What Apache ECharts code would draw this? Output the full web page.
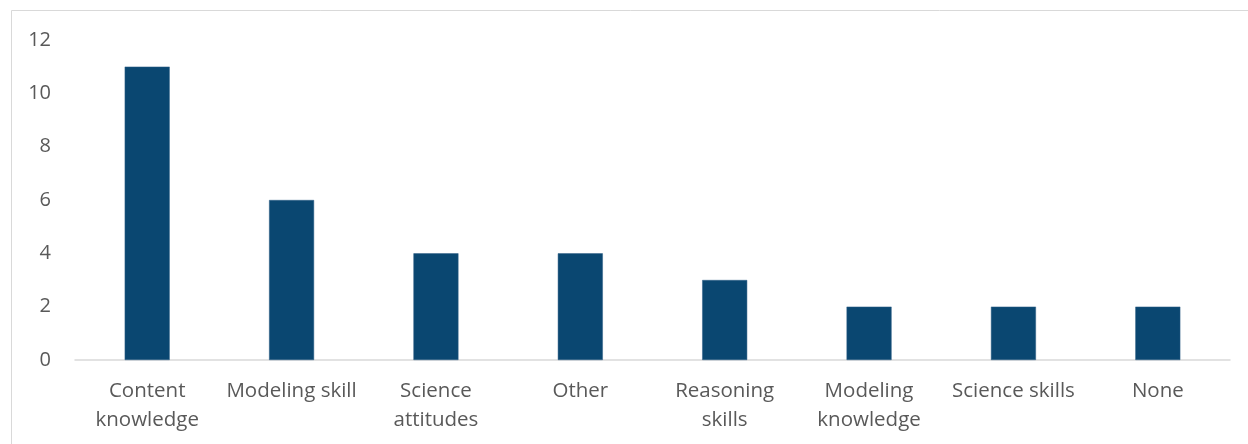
<!DOCTYPE html>
<html>
<head>
<meta charset="utf-8">
<script src="https://cdn.jsdelivr.net/npm/echarts@6/dist/echarts.min.js"></script>
<style>
  html, body { margin: 0; padding: 0; background: #ffffff; }
  #chart { width: 1248px; height: 444px; }
</style>
</head>
<body>
<div id="chart"></div>
<script>
// Categories (multi-line labels use \n) and their counts
const categories = [
  'Content\nknowledge', 'Modeling skill', 'Science\nattitudes', 'Other',
  'Reasoning\nskills', 'Modeling\nknowledge', 'Science skills', 'None'
];
const counts = [11, 6, 4, 4, 3, 2, 2, 2];
const yTicks = { min: 0, max: 12, interval: 2 };

const textColor = '#595959';
const fontFamily = '"Open Sans", "Noto Sans", sans-serif';

const chart = echarts.init(document.getElementById('chart'));
chart.setOption({
  animation: false,
  backgroundColor: '#ffffff',
  graphic: [{
    type: 'rect',
    shape: { x: 11.5, y: 10.5, width: 1400, height: 600 },
    style: { fill: 'none', stroke: '#d9d9d9', lineWidth: 1 },
    silent: true
  }],
  grid: { left: 75, right: 18, top: 40, bottom: 84 },
  xAxis: {
    type: 'category',
    data: categories,
    axisLine: { lineStyle: { color: '#d9d9d9', width: 1.5 } },
    axisTick: { show: false },
    axisLabel: {
      color: textColor, fontFamily: fontFamily, fontSize: 20.5,
      lineHeight: 29, margin: 17, interval: 0
    }
  },
  yAxis: {
    type: 'value',
    min: yTicks.min, max: yTicks.max, interval: yTicks.interval,
    axisLine: { show: false },
    axisTick: { show: false },
    splitLine: { show: false },
    axisLabel: { color: textColor, fontFamily: fontFamily, fontSize: 20, margin: 24 }
  },
  series: [{
    type: 'bar',
    data: counts,
    barWidth: 45,
    itemStyle: { color: '#0a4771', borderColor: '#2f5f86', borderWidth: 0.5 }
  }]
});
</script>
</body>
</html>
